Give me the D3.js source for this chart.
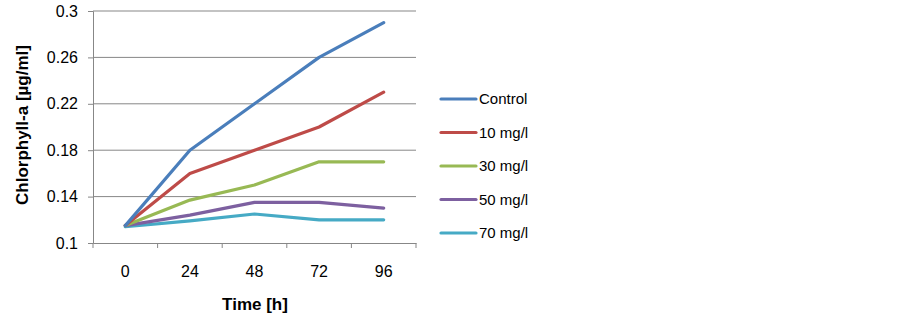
<html>
<head>
<script src="https://d3js.org/d3.v7.min.js"></script>
<style>
  body { margin: 0; background: #fff; }
  text { font-family: "Liberation Sans", Arial, sans-serif; }
</style>
</head>
<body>
<div id="chart"></div>
<script>
const times = ["0", "24", "48", "72", "96"];
const yTicks = [0.1, 0.14, 0.18, 0.22, 0.26, 0.3];
const seriesNames = ["Control", "10 mg/l", "30 mg/l", "50 mg/l", "70 mg/l"];
const control = [0.115, 0.18, 0.22, 0.26, 0.29];
const mg10 = [0.115, 0.16, 0.18, 0.20, 0.23];
const mg30 = [0.115, 0.137, 0.15, 0.17, 0.17];
const mg50 = [0.115, 0.124, 0.135, 0.135, 0.13];
const mg70 = [0.114, 0.119, 0.125, 0.12, 0.12];
const colors = ["#4a7ebb", "#be4b48", "#98b954", "#7d60a0", "#46aac5"];

const series = [control, mg10, mg30, mg50, mg70];

const svg = d3.select("#chart").append("svg")
    .attr("width", 902).attr("height", 321);

const plotL = 93, plotR = 416, plotT = 11, plotB = 243;

const x = d3.scaleBand().domain(times).range([plotL, plotR]);
const y = d3.scaleLinear().domain([0.1, 0.3]).range([plotB, plotT]);

// gridlines
svg.append("g").selectAll("line")
    .data(yTicks.slice(1))
    .join("line")
    .attr("x1", plotL).attr("x2", plotR)
    .attr("y1", d => y(d)).attr("y2", d => y(d))
    .attr("stroke", "#878787").attr("stroke-width", 1);

// y axis
const yAxis = svg.append("g")
    .attr("transform", "translate(" + plotL + ",0)")
    .call(d3.axisLeft(y).tickValues(yTicks).tickFormat(d3.format("")).tickSize(5).tickPadding(10));
yAxis.select(".domain").attr("stroke", "#878787");
yAxis.selectAll(".tick line").attr("stroke", "#878787");
yAxis.selectAll("text").attr("font-size", 16).attr("fill", "#000")
    .style("font-family", "'Liberation Sans', Arial, sans-serif");

// x axis
const xAxis = svg.append("g")
    .attr("transform", "translate(0," + plotB + ")")
    .call(d3.axisBottom(x).tickSize(0).tickPadding(23));
xAxis.select(".domain").attr("stroke", "#878787");
xAxis.selectAll("text").attr("font-size", 16).attr("fill", "#000")
    .style("font-family", "'Liberation Sans', Arial, sans-serif");
// tick marks between categories
svg.append("g").selectAll("line")
    .data(d3.range(times.length + 1))
    .join("line")
    .attr("x1", i => plotL + i * x.step()).attr("x2", i => plotL + i * x.step())
    .attr("y1", plotB).attr("y2", plotB + 5)
    .attr("stroke", "#878787");

// lines
const line = d3.line()
    .x((d, i) => x(times[i]) + x.bandwidth() / 2)
    .y(d => y(d));

svg.append("g").selectAll("path")
    .data(series.slice().reverse())
    .join("path")
    .attr("d", d => line(d))
    .attr("fill", "none")
    .attr("stroke", (d, i) => colors[series.length - 1 - i])
    .attr("stroke-width", 3.2)
    .attr("stroke-linejoin", "round")
    .attr("stroke-linecap", "round");

// axis titles
svg.append("text")
    .attr("transform", "translate(28,125) rotate(-90)")
    .attr("text-anchor", "middle")
    .attr("font-size", 17).attr("font-weight", "bold")
    .text("Chlorphyll-a [µg/ml]");

svg.append("text")
    .attr("x", 255).attr("y", 310)
    .attr("text-anchor", "middle")
    .attr("font-size", 17).attr("font-weight", "bold")
    .text("Time [h]");

// legend
const legend = svg.append("g").selectAll("g")
    .data(seriesNames)
    .join("g")
    .attr("transform", (d, i) => "translate(441," + (99 + i * 33.5) + ")");
legend.append("line")
    .attr("x1", 0).attr("x2", 35)
    .attr("stroke", (d, i) => colors[i])
    .attr("stroke-width", 3.2).attr("stroke-linecap", "round");
legend.append("text")
    .attr("x", 38).attr("dy", "0.35em")
    .attr("font-size", 15)
    .text(d => d);
</script>
</body>
</html>
